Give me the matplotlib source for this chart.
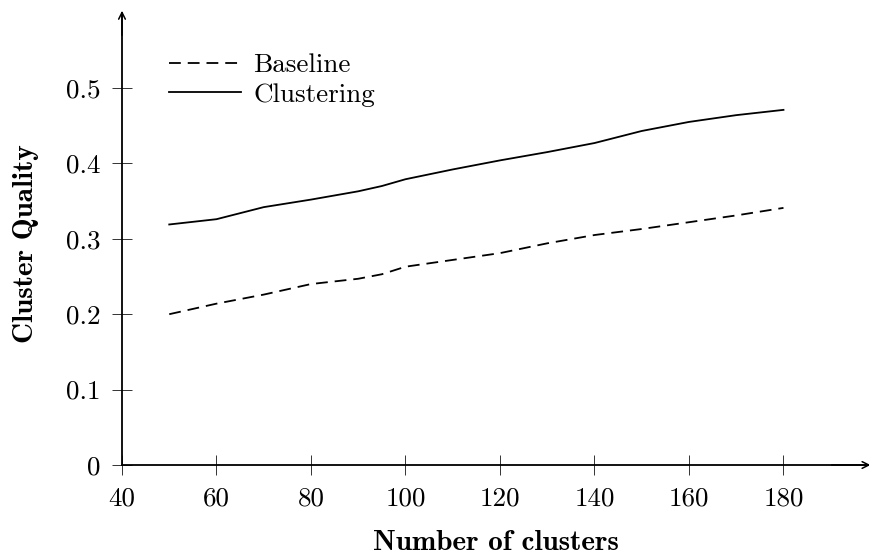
import matplotlib
matplotlib.use("Agg")
import matplotlib.pyplot as plt

# values
clusters = [50, 60, 70, 80, 90, 95, 100, 110, 120, 130, 140, 150, 160, 170, 180]
baseline = [0.200, 0.214, 0.226, 0.240, 0.247, 0.253, 0.263, 0.272, 0.281,
            0.294, 0.305, 0.313, 0.322, 0.331, 0.341]
clustering = [0.319, 0.326, 0.342, 0.352, 0.363, 0.370, 0.379, 0.392, 0.404,
              0.415, 0.427, 0.443, 0.455, 0.464, 0.471]

x_ticks = [40, 60, 80, 100, 120, 140, 160, 180]
x_tick_labels = ["40", "60", "80", "100", "120", "140", "160", "180"]
y_ticks = [0, 0.1, 0.2, 0.3, 0.4, 0.5]
y_tick_labels = ["0", "0.1", "0.2", "0.3", "0.4", "0.5"]

plt.rcParams['font.family'] = ['cmr10', 'DejaVu Serif']
plt.rcParams['lines.scale_dashes'] = False
FS = 19.5
LFS = 21

W, H = 869, 554
fig = plt.figure(figsize=(W / 100, H / 100), dpi=100)
left, bottom, top = 122, 465, 12.6
ax = fig.add_axes([left / W, 1 - bottom / H, 1 - left / W, (bottom - top) / H])

ax.plot(clusters, baseline, color='black', lw=1.3, dashes=(8.5, 5), label='Baseline')
ax.plot(clusters, clustering, color='black', lw=1.3, label='Clustering')

ax.set_xlim(40, 198.1)
ax.set_ylim(0, 0.6)

for side in ('top', 'right'):
    ax.spines[side].set_visible(False)
for side in ('left', 'bottom'):
    ax.spines[side].set_linewidth(1.3)

# arrow heads on the axes
ax.annotate('', xy=(0, 1.004), xycoords='axes fraction', xytext=(0, 0.95),
            arrowprops=dict(arrowstyle='->', lw=1.1, color='black',
                            mutation_scale=12, shrinkA=0, shrinkB=0))
ax.annotate('', xy=(1.002, 0), xycoords='axes fraction', xytext=(0.95, 0),
            arrowprops=dict(arrowstyle='->', lw=1.1, color='black',
                            mutation_scale=12, shrinkA=0, shrinkB=0))

ax.set_xticks(x_ticks)
ax.set_xticklabels(x_tick_labels)
ax.set_yticks(y_ticks)
ax.set_yticklabels(y_tick_labels)
ax.tick_params(direction='inout', length=15, width=0.7, color='#333333',
               labelsize=FS, pad=8)

ax.set_xlabel('Number of clusters', family='cmb10', fontsize=LFS, va='baseline')
ax.set_ylabel('Cluster Quality', family='cmb10', fontsize=LFS, va='baseline')
ax.xaxis.set_label_coords(0.5, -0.188)
ax.yaxis.set_label_coords(-0.119, 0.49)

ax.legend(loc='upper left', bbox_to_anchor=(0.063, 0.91), frameon=False,
          fontsize=FS, handlelength=2.65, handletextpad=0.45, labelspacing=0.21,
          borderpad=0, borderaxespad=0)

fig.savefig('out.png', dpi=100)
